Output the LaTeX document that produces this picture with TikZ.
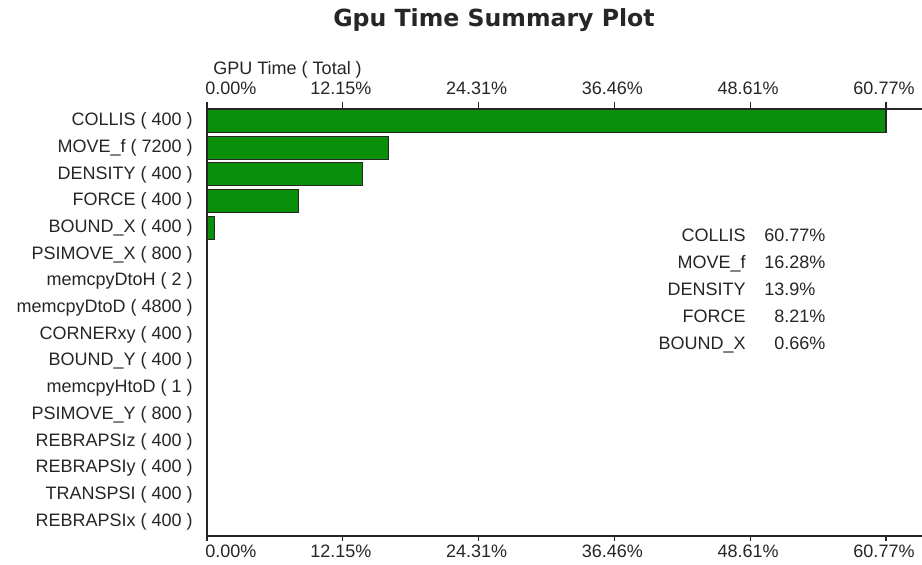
\documentclass[tikz,border=0pt]{standalone}
\usepackage{fontspec}
\setmainfont{Liberation Sans}
\newfontfamily\titlefont{DejaVu Sans}
\usetikzlibrary{positioning}
\definecolor{bargreen}{RGB}{10,143,10}

\begin{document}
\begin{tikzpicture}[x=0.5pt, y=-0.5pt, font=\fontsize{9}{10}\selectfont,
    lbl/.style={inner sep=0pt, text=black!85},
    bar/.style={draw=black!85, fill=bargreen, line width=0.6pt},
    axis/.style={black!85, line width=0.6pt}]
    \useasboundingbox (0,0) rectangle (922,565);
    \fill[white] (0,0) rectangle (922,565);

    \node[lbl, anchor=base, font=\titlefont\bfseries\fontsize{11.8}{13}\selectfont] (title) at (494,27) {Gpu Time Summary Plot};
    \node[lbl, anchor=west] (xtitle) at (213,70) {GPU Time ( Total )};

    % axes
    \draw[axis] (207,109) -- (922,109);
    \draw[axis] (207,536) -- (922,536);
    \draw[axis, line width=1pt] (207,103) -- (207,541);

    % ticks and percent labels, top and bottom
    \foreach \lab/\anc [count=\k from 0] in {0.00/west, 12.15/center, 24.31/center, 36.46/center, 48.61/center, 60.77/center} {
        \draw[axis] ({207+135.8*\k},102) -- ({207+135.8*\k},109);
        \draw[axis] ({207+135.8*\k},536) -- ({207+135.8*\k},541);
        \node[lbl, anchor=\anc] (top\k) at ({207+135.8*\k-2},88) {\lab\%};
        \node[lbl, anchor=\anc] (bot\k) at ({207+135.8*\k-2},551) {\lab\%};
    }

    % kernel names with call counts
    \foreach \name/\calls [count=\i from 0] in {COLLIS/400, MOVE\_f/7200, DENSITY/400, FORCE/400, BOUND\_X/400,
        PSIMOVE\_X/800, memcpyDtoH/2, memcpyDtoD/4800, CORNERxy/400, BOUND\_Y/400, memcpyHtoD/1,
        PSIMOVE\_Y/800, REBRAPSIz/400, REBRAPSIy/400, TRANSPSI/400, REBRAPSIx/400} {
        \node[lbl, anchor=east] (kern\i) at (193,{121+26.7*\i}) {\name\ ( \calls\ )};
    }

    % bars, 60.77% spans 679 units (11.173 per percent)
    \foreach \v [count=\i from 0] in {60.77, 16.28, 13.9, 8.21, 0.66} {
        \filldraw[bar] (207,{121+26.7*\i-11.5}) rectangle ({207+\v*11.173},{121+26.7*\i+11.5});
    }

    % legend
    \foreach \name/\val [count=\i from 0] in {COLLIS/60.77, MOVE\_f/16.28, DENSITY/13.9, FORCE/\hphantom{0}8.21, BOUND\_X/\hphantom{0}0.66} {
        \node[lbl, anchor=base east] (key\i) at (746,{241.5+26.9*\i}) {\name};
        \node[lbl, base right=9pt of key\i] (val\i) {\val\%};
    }
\end{tikzpicture}
\end{document}
